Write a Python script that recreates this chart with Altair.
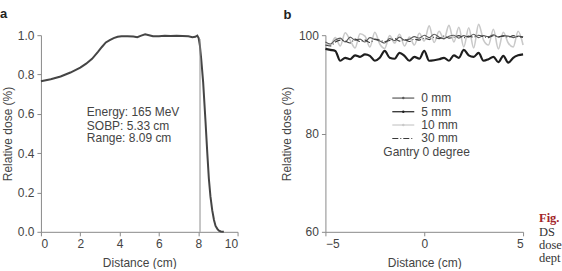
import altair as alt
import pandas as pd

# Panel a: depth-dose curve
depth_cm = [0, 0.5, 1, 1.5, 2, 2.3, 2.6, 2.9, 3.1, 3.3, 3.5, 3.7, 3.9, 4.1, 4.4, 4.7,
            4.9, 5.1, 5.3, 5.5, 5.7, 6.0, 6.3, 6.6, 6.9, 7.2, 7.5, 7.7, 7.85, 7.95,
            8.02, 8.08, 8.15, 8.25, 8.37, 8.46, 8.54, 8.62, 8.71, 8.8, 8.88, 8.97,
            9.05, 9.15, 9.3]
depth_dose = [0.766, 0.776, 0.79, 0.81, 0.835, 0.855, 0.88, 0.915, 0.94, 0.963, 0.975,
              0.985, 0.992, 0.995, 0.995, 0.993, 0.99, 0.998, 1.004, 1.0, 0.995, 0.995,
              0.997, 0.996, 0.997, 0.996, 0.994, 0.99, 0.992, 0.998, 0.985, 0.95, 0.88,
              0.76, 0.56, 0.40, 0.27, 0.18, 0.11, 0.06, 0.03, 0.015, 0.006, 0.002, 0.0]
range_cm = 8.09
info_lines = ["Energy: 165 MeV", "SOBP: 5.33 cm", "Range: 8.09 cm"]
ticks_a_x = [0, 2, 4, 6, 8, 10]
ticks_a_y = [0, 0.2, 0.4, 0.6, 0.8, 1.0]

# Panel b: lateral profiles at several depths
lateral_cm = [-5 + 0.25 * i for i in range(41)]
dose_0mm = [98.6, 98.2, 99.0, 99.4, 98.6, 99.6, 99.0, 99.2, 98.6, 99.5, 99.1, 98.8, 98.4,
            99.3, 98.9, 99.6, 99.0, 99.2, 99.7, 99.4, 100.0, 99.5, 100.2, 99.6, 99.3, 99.8,
            100.0, 99.4, 99.9, 99.6, 100.2, 99.5, 99.9, 99.7, 100.1, 99.6, 99.9, 99.8, 99.5,
            99.8, 99.6]
dose_5mm = [97.2, 97.0, 96.8, 94.8, 95.4, 95.1, 95.9, 95.6, 96.1, 95.8, 94.8, 95.4, 96.8,
            95.4, 95.2, 96.4, 95.8, 94.8, 95.6, 95.2, 96.8, 94.8, 94.9, 95.1, 95.4, 94.8,
            95.9, 95.4, 97.0, 95.9, 95.6, 96.4, 94.8, 95.1, 95.6, 94.5, 95.8, 94.4, 95.4,
            95.9, 96.1]
dose_10mm = [98.3, 98.0, 99.5, 97.8, 100.5, 99.0, 97.4, 100.3, 99.8, 97.6, 100.6, 98.2, 97.3,
             99.9, 98.4, 100.2, 97.8, 99.6, 98.0, 100.4, 98.8, 101.9, 98.5, 100.8, 99.2, 102.0,
             98.6, 101.6, 97.6, 101.5, 97.4, 102.2, 99.0, 98.0, 101.2, 97.2, 100.6, 98.4, 97.6,
             100.8, 98.0]
dose_30mm = [98.0, 97.8, 98.6, 99.0, 98.8, 98.4, 99.2, 98.7, 99.0, 98.5, 99.2, 99.0, 98.7,
             98.9, 99.3, 98.8, 99.1, 98.7, 99.2, 99.0, 99.4, 99.1, 99.6, 99.3, 99.8, 99.4,
             99.6, 99.9, 99.5, 99.8, 99.6, 100.0, 99.7, 99.5, 99.9, 99.7, 99.8, 99.6, 99.9,
             99.7, 99.6]
series_names = ["0 mm", "5 mm", "10 mm", "30 mm"]
legend_note = "Gantry 0 degree"
ticks_b_x = [-5, 0, 5]
ticks_b_y = [60, 80, 100]
caption_head = "Fig."
caption_lines = ["DS", "dose", "dept"]

FONT = "Liberation Sans"
TXT = "#444444"
AX = "#8a8a8a"


def label(text, x, y, **kw):
    style = dict(align="left", baseline="middle", font=FONT, fontSize=12, color=TXT)
    style.update(kw)
    return alt.Chart(pd.DataFrame({"t": [text]})).mark_text(**style).encode(
        x=alt.value(x), y=alt.value(y), text="t:N")


def axis(values, title, **kw):
    return alt.Axis(values=values, tickCount=len(values), title=title,
                    labelOverlap=False, **kw)


# ---------- panel a ----------
dd = pd.DataFrame({"x": depth_cm, "y": depth_dose})
xa = alt.X("x:Q", scale=alt.Scale(domain=[0, 10], nice=False),
           axis=axis(ticks_a_x, "Distance (cm)", titlePadding=8))
ya = alt.Y("y:Q", scale=alt.Scale(domain=[0, 1], nice=False),
           axis=axis(ticks_a_y, "Relative dose (%)", format=".1f", titlePadding=3))

curve = alt.Chart(dd).mark_line(color="#454545", strokeWidth=2).encode(x=xa, y=ya)
rng = alt.Chart(pd.DataFrame({"x": [range_cm], "y0": [0.0], "y1": [0.98]})).mark_rule(
    color="#8f8f8f", strokeWidth=1).encode(x="x:Q", y="y0:Q", y2="y1:Q")
info = [label(t, 46, yy) for t, yy in zip(info_lines, [77.3, 90.7, 103.3])]
tag_a = label("a", -41, -21, fontSize=13, fontWeight="bold", color="#222222")

panel_a = alt.layer(curve, rng, *info, tag_a).properties(width=197, height=197)

# ---------- panel b ----------
rows = []
for name, vals in zip(series_names, [dose_0mm, dose_5mm, dose_10mm, dose_30mm]):
    for xv, yv in zip(lateral_cm, vals):
        rows.append({"x": xv, "y": yv, "s": name})
prof = pd.DataFrame(rows)

xb = alt.X("x:Q", scale=alt.Scale(domain=[-5, 5], nice=False),
           axis=axis(ticks_b_x, "Distance (cm)", titlePadding=8))
yb = alt.Y("y:Q", scale=alt.Scale(domain=[60, 100], nice=False),
           axis=axis(ticks_b_y, "Relative dose (%)", titlePadding=5))

styles = {
    "10 mm": dict(color="#c9c9c9", strokeWidth=1.6),
    "0 mm": dict(color="#5a5a5a", strokeWidth=1.1),
    "30 mm": dict(color="#3a3a3a", strokeWidth=1.1, strokeDash=[6, 2, 1, 2]),
    "5 mm": dict(color="#1e1e1e", strokeWidth=2.2),
}
lines = [
    alt.Chart(prof).transform_filter(alt.datum.s == name).mark_line(
        interpolate="monotone", **st).encode(x=xb, y=yb)
    for name, st in styles.items()
]

# hand-built legend inside the plot
leg_rows = [63, 76.7, 90, 103.5]
legend_layers = []
for name, yy in zip(series_names, leg_rows):
    st = dict(styles[name])
    st["strokeWidth"] = 1.2
    legend_layers.append(
        alt.Chart(pd.DataFrame({"s": [name]})).mark_rule(**st).encode(
            x=alt.value(67), x2=alt.value(89), y=alt.value(yy)))
    if name != "30 mm":
        legend_layers.append(
            alt.Chart(pd.DataFrame({"s": [name]})).mark_point(
                filled=True, size=6, color=st["color"], opacity=1).encode(
                x=alt.value(78), y=alt.value(yy)))
    legend_layers.append(label(name, 96, yy))
legend_layers.append(label(legend_note, 58, 117.3))

tag_b = label("b", -42, -20, fontSize=13, fontWeight="bold", color="#222222")

cap = [label(caption_head, 214, 183, font="Liberation Serif", fontSize=12.5,
             fontWeight="bold", color="#a3262b")]
cap += [label(t, 214, yy, font="Liberation Serif", fontSize=12.5, color="#333333")
        for t, yy in zip(caption_lines, [197, 210, 223])]

panel_b = alt.layer(*lines, *legend_layers, tag_b, *cap).properties(width=198, height=197)

chart = alt.hconcat(panel_a, panel_b, spacing=41).properties(
    padding={"left": 0, "top": 8, "right": 0, "bottom": 0}
).configure(font=FONT).configure_view(stroke=None).configure_axis(
    grid=False, domainColor=AX, tickColor=AX, tickSize=4, labelColor=TXT,
    titleColor=TXT, labelFontSize=12, titleFontSize=12, titleFontWeight="normal",
    labelFont=FONT, titleFont=FONT, labelPadding=3)

chart.save("out.html", embed_options={"renderer": "svg", "actions": False})
